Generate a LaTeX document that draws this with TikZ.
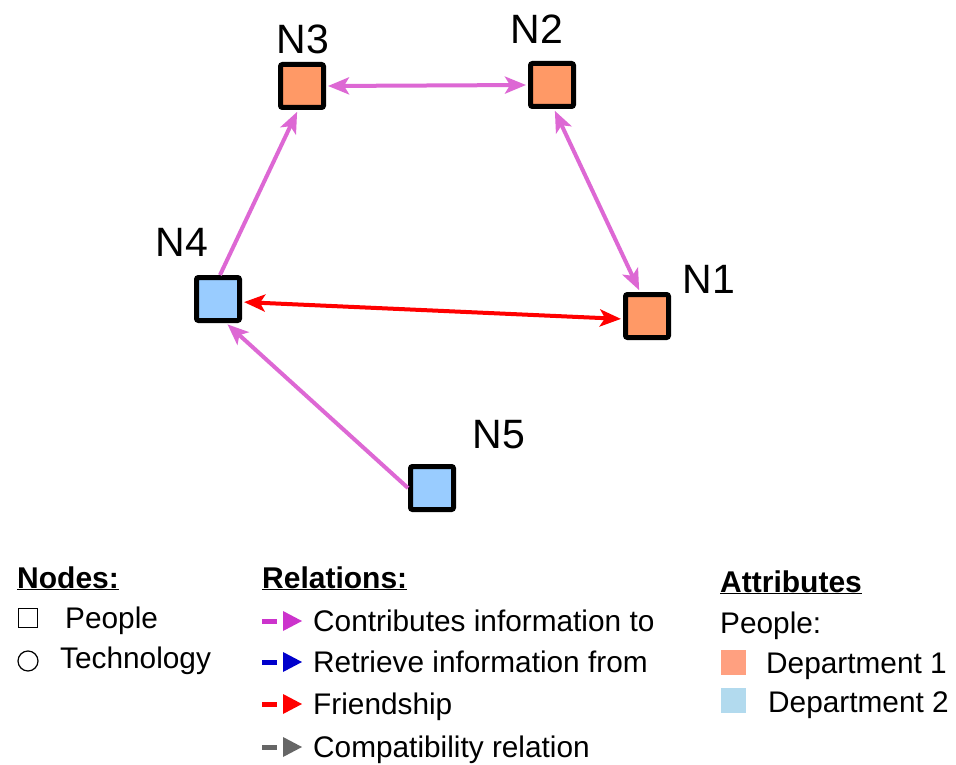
\documentclass[tikz,border=0pt]{standalone}
\usepackage{fontspec}
\setmainfont{Liberation Sans}
\usetikzlibrary{arrows.meta}
\definecolor{deptone}{RGB}{255,153,102}
\definecolor{depttwo}{RGB}{153,204,255}
\definecolor{swatchone}{RGB}{255,160,128}
\definecolor{swatchtwo}{RGB}{178,218,238}
\definecolor{contrib}{RGB}{221,104,212}
\definecolor{contribkey}{RGB}{204,51,204}
\definecolor{retrieve}{RGB}{0,0,204}
\definecolor{compat}{RGB}{102,102,102}
\tikzset{
  person/.style={draw=black, line width=5pt, rounded corners=2pt,
    minimum size=43pt, inner sep=0pt},
  nlabel/.style={font=\fontsize{41}{41}\selectfont, inner sep=0pt},
  tip/.style={-{Stealth[length=21pt,width=17pt,inset=5pt]}},
  dtip/.style={{Stealth[length=21pt,width=17pt,inset=5pt]}-{Stealth[length=21pt,width=17pt,inset=5pt]}},
  rel/.style={line width=4pt, color=contrib},
  legtext/.style={font=\fontsize{29.8}{30}\selectfont, anchor=base west, inner sep=0pt},
  leghead/.style={font=\fontsize{30}{30}\selectfont\bfseries, anchor=base west, inner sep=0pt},
  keydash/.style={line width=5pt},
}
\begin{document}
\begin{tikzpicture}[x=1pt,y=-1pt]
\useasboundingbox[fill=white] (0,0) rectangle (956,765);

% people nodes
\node[person, fill=deptone] (n3) at (302,86) {};
\node[person, fill=deptone] (n2) at (552,85) {};
\node[person, fill=deptone] (n1) at (647,316) {};
\node[person, fill=depttwo] (n4) at (218,299) {};
\node[person, fill=depttwo] (n5) at (432,488) {};

% node labels
\node[nlabel] (l3) at (303,39) {N3};
\node[nlabel] (l2) at (537,29) {N2};
\node[nlabel] (l1) at (709,279) {N1};
\node[nlabel] (l4) at (182,242) {N4};
\node[nlabel] (l5) at (499,435) {N5};

% relations
\draw[rel, dtip, shorten <=2pt, shorten >=2pt] (n3.east) -- (n2.west);
\draw[rel, dtip, shorten <=2pt, shorten >=2pt] ([xshift=2pt]n2.south) -- ([xshift=-7pt]n1.north);
\draw[rel, tip, shorten >=2pt] ([xshift=2pt]n4.north) -- ([xshift=-4pt]n3.south);
\draw[rel, tip, shorten >=2pt] (n5.west) -- ([xshift=8pt]n4.south);
\draw[rel, dtip, color=red, shorten <=2pt, shorten >=2pt] ([yshift=-3pt]n4.east) -- ([yshift=-3pt]n1.west);

% legend: nodes
\node[leghead] (hnodes) at (17,588) {\underline{Nodes:}};
\node[draw=black, line width=1.2pt, minimum size=19pt, inner sep=0pt] (ksq) at (28,618) {};
\node[legtext] (tpeople) at (65,628) {People};
\node[draw=black, circle, line width=1.2pt, minimum size=20pt, inner sep=0pt] (kcirc) at (28,661) {};
\node[legtext] (ttech) at (60,668) {Technology};

% legend: relations
\node[leghead] (hrel) at (262,588) {\underline{Relations:}};
\foreach \y/\c/\t [count=\i] in {621/contribkey/Contributes information to,
    662/retrieve/Retrieve information from,
    704/red/Friendship,
    747/compat/Compatibility relation}{
  \coordinate (ka\i) at (262,\y);
  \coordinate (kb\i) at (277,\y);
  \draw[keydash, color=\c] (ka\i) -- (kb\i);
  \fill[color=\c] (283,\y-10) -- (302,\y) -- (283,\y+10) -- cycle;
  \node[legtext] (kt\i) at (313,\y+10) {\t};
}

% legend: attributes
\node[leghead] (hattr) at (720,592) {\underline{Attributes}};
\node[legtext] (tpeop) at (720,633) {People:};
\node[fill=swatchone, minimum size=25pt, inner sep=0pt] (sw1) at (733,662) {};
\node[legtext] (td1) at (766,673) {Department 1};
\node[fill=swatchtwo, minimum size=25pt, inner sep=0pt] (sw2) at (733,700) {};
\node[legtext] (td2) at (768,712) {Department 2};
\end{tikzpicture}
\end{document}
